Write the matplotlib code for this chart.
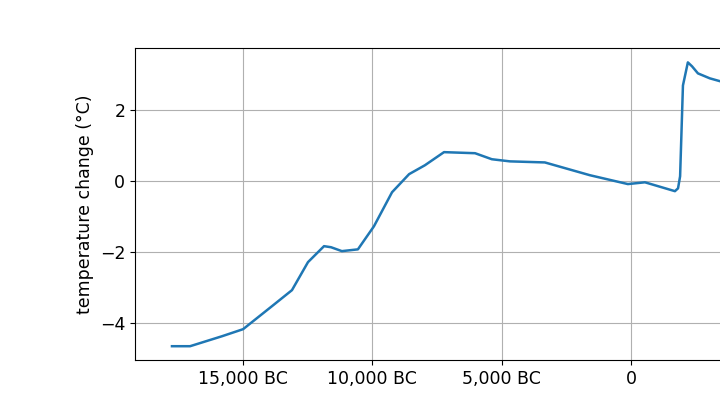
import matplotlib
matplotlib.use("Agg")
import matplotlib.pyplot as plt
from matplotlib.ticker import FuncFormatter

# year (negative = BC), temperature change relative to baseline
years = [-17750, -17050, -15820, -15000, -13880, -13110, -12490, -11870, -11600,
         -11180, -10560, -9940, -9240, -8580, -7970, -7230, -6030, -5380, -4680,
         -3330, -1590, -120, 540, 1700, 1820, 1900, 2010, 2200, 2360, 2590, 3050,
         3440, 3700]
temps = [-4.65, -4.65, -4.37, -4.17, -3.52, -3.07, -2.28, -1.83, -1.86,
         -1.97, -1.92, -1.27, -0.31, 0.2, 0.45, 0.82, 0.79, 0.62, 0.56,
         0.53, 0.17, -0.08, -0.03, -0.28, -0.2, 0.14, 2.7, 3.35, 3.24, 3.04, 2.9,
         2.82, 2.78]


def fmt_year(x, pos):
    if x < 0:
        return f"{int(-x):,} BC"
    if x == 0:
        return "0"
    return f"{int(x):,} AD"


fig = plt.figure(figsize=(7.2, 4.05), dpi=100)
ax = fig.add_axes([0.1875, 0.111, 1.048, 0.770])
ax.plot(years, temps, color="#1f77b4", linewidth=1.8)
ax.set_xlim(-19180, 10000)
ax.set_ylim(-5.04, 3.75)
ax.set_xticks([-15000, -10000, -5000, 0, 5000])
ax.set_yticks([-4, -2, 0, 2])
ax.xaxis.set_major_formatter(FuncFormatter(fmt_year))
ax.yaxis.set_major_formatter(FuncFormatter(lambda v, p: f"{int(v)}".replace("-", "\u2212")))
ax.set_ylabel("temperature change (°C)", fontsize=12.5)
ax.grid(True, color="#b0b0b0")
ax.tick_params(labelsize=12.5)
fig.savefig("out.png", dpi=100)
